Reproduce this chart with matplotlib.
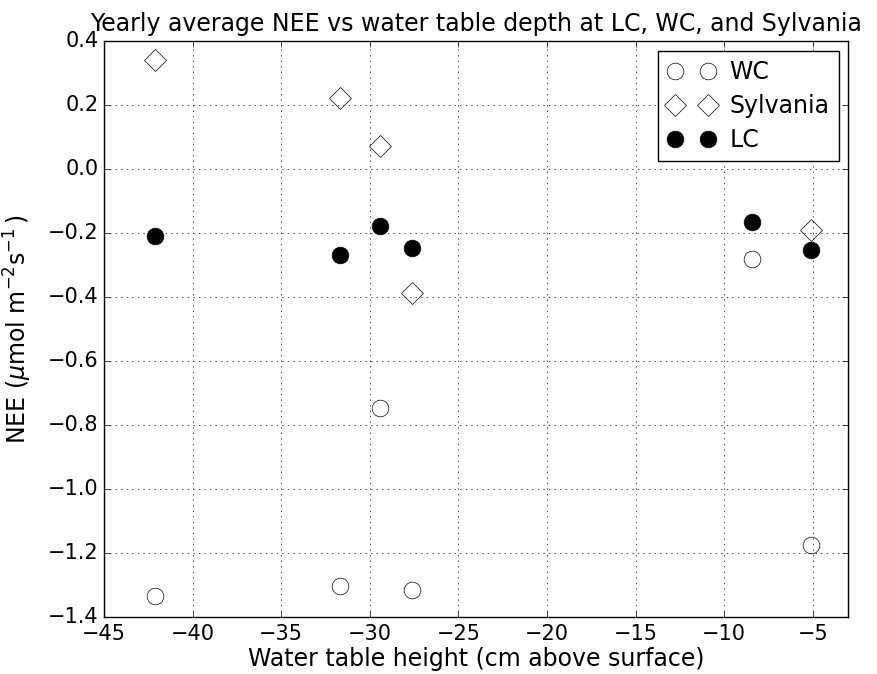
import matplotlib
matplotlib.use("Agg")
import matplotlib.pyplot as plt

plt.style.use("classic")
plt.rcParams["mathtext.fontset"] = "dejavusans"
plt.rcParams["font.family"] = ["DejaVu Sans"]

wc_x = [-42.1, -31.7, -29.4, -27.6, -8.4, -5.1]
wc_y = [-1.333, -1.302, -0.746, -1.316, -0.281, -1.175]

syl_x = [-42.1, -31.7, -29.4, -27.6, -5.1]
syl_y = [0.342, 0.223, 0.073, -0.388, -0.19]

lc_x = [-42.1, -31.7, -29.4, -27.6, -8.4, -5.1]
lc_y = [-0.209, -0.269, -0.178, -0.247, -0.166, -0.254]

fig = plt.figure(figsize=(8.78, 6.74), dpi=100, facecolor="white")
ax = fig.add_axes([0.1185, 0.0846, 0.8475, 0.8544])

ax.plot(wc_x, wc_y, "o", mfc="white", mec="black", ms=12, label="WC")
ax.plot(syl_x, syl_y, "D", mfc="white", mec="black", ms=11, label="Sylvania")
ax.plot(lc_x, lc_y, "o", mfc="black", mec="black", ms=12, label="LC")

ax.set_xlim(-45, -3)
ax.set_ylim(-1.4, 0.4)
ax.set_xticks([-45, -40, -35, -30, -25, -20, -15, -10, -5])
ax.set_yticks([-1.4, -1.2, -1.0, -0.8, -0.6, -0.4, -0.2, 0.0, 0.2, 0.4])
ax.grid(True, linestyle=":", color="black")
ax.tick_params(labelsize=15)
ax.tick_params(axis="x", pad=5)
ax.tick_params(axis="y", pad=4)

ax.set_xlabel("Water table height (cm above surface)", fontsize=17, labelpad=2)
ax.set_ylabel(r"NEE ($\mu$mol m$^{-2}$s$^{-1}\,$)", fontsize=17, labelpad=10)
ax.set_title("Yearly average NEE vs water table depth at LC, WC, and Sylvania", fontsize=17, pad=7)

ax.legend(loc="upper right", numpoints=2, fontsize=17, handletextpad=0.6,
          borderaxespad=0.4, labelspacing=0.42)

fig.savefig("out.png", dpi=100, facecolor="white")
